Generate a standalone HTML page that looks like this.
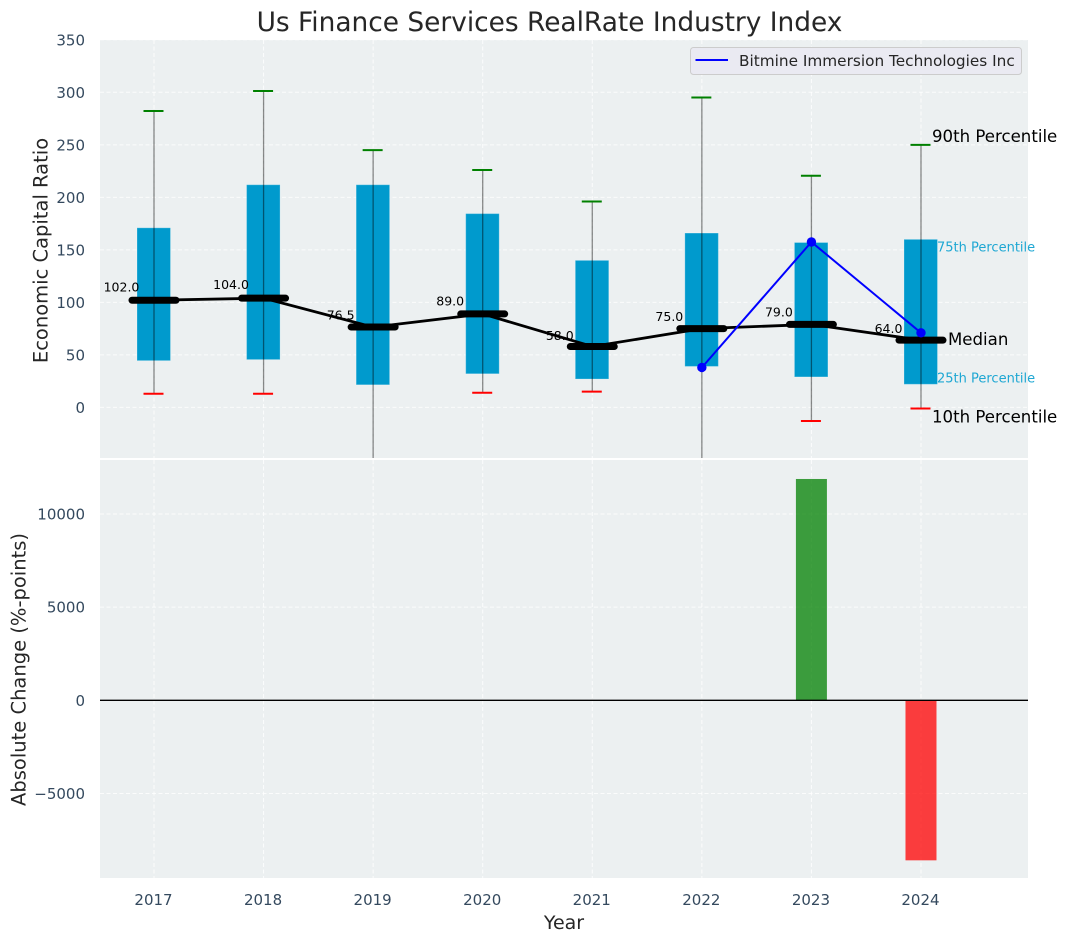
<!DOCTYPE html>
<html lang="en">
<head>
<meta charset="utf-8">
<title>Us Finance Services RealRate Industry Index</title>
<style>
html,body{margin:0;padding:0;background:#fff;width:1067px;height:942px;overflow:hidden}
svg{display:block}
text{font-family:"DejaVu Sans","Liberation Sans",sans-serif}
</style>
</head>
<body>
<svg id="chart" xmlns="http://www.w3.org/2000/svg" width="1067" height="942" viewBox="0 0 1067 942">
  <defs>
    <clipPath id="clip-top"><rect x="100" y="40" width="928" height="418"/></clipPath>
    <clipPath id="clip-bottom"><rect x="100" y="460" width="928" height="418"/></clipPath>
  </defs>
  <text x="549.5" y="31" text-anchor="middle" font-size="26.4" fill="#262626">Us Finance Services RealRate Industry Index</text>
  <rect x="100" y="40" width="928" height="418" fill="#ecf0f1"/>
  <rect x="100" y="460" width="928" height="418" fill="#ecf0f1"/>
  <g id="grid-top"></g>
  <g id="grid-bottom"></g>
  <g id="boxes" clip-path="url(#clip-top)"></g>
  <g id="medians" clip-path="url(#clip-top)"></g>
  <g id="company" clip-path="url(#clip-top)"></g>
  <g id="value-labels"></g>
  <g id="annotations"></g>
  <g id="bars" clip-path="url(#clip-bottom)"></g>
  <g id="ticks"></g>
  <text transform="translate(47.5 250.5) rotate(-90)" text-anchor="middle" font-size="19.5" fill="#262626">Economic Capital Ratio</text>
  <text transform="translate(25.5 669.5) rotate(-90)" text-anchor="middle" font-size="19.5" fill="#262626">Absolute Change (%-points)</text>
  <text x="564" y="929" text-anchor="middle" font-size="19" fill="#262626">Year</text>
  <g>
    <rect x="690.5" y="47.5" width="331" height="27" rx="3" fill="#eaeaf2" stroke="#cccccc" stroke-width="1"/>
    <line x1="695.5" y1="60" x2="728" y2="60" stroke="#0000ff" stroke-width="2"/>
    <text x="739" y="66" font-size="15.3" fill="#262626">Bitmine Immersion Technologies Inc</text>
  </g>
</svg>
<script>
const years = [2017, 2018, 2019, 2020, 2021, 2022, 2023, 2024];
const p90 = [282.2, 301.2, 245, 226, 196, 295, 220.5, 250];
const p75 = [171, 212, 212, 184.5, 140, 166, 157, 160];
const medianValues = [102, 104, 76.5, 89, 58, 75, 79, 64];
const p25 = [44.5, 45.5, 21.5, 32, 27, 39, 29, 22];
const p10 = [13, 13, -60, 14, 15, -60, -13, -1];
const companyYears = [2022, 2023, 2024];
const companyValues = [38, 157.5, 71];
const changeYears = [2023, 2024];
const changeValues = [11880, -8590];
const topTicks = [0, 50, 100, 150, 200, 250, 300, 350];
const bottomTicks = [-5000, 0, 5000, 10000];

const NS = 'http://www.w3.org/2000/svg';
const xScale = function (year) { return 154 + (year - 2017) * 109.57; };
const yTop = function (v) { return 407.4 - v * 1.0503; };
const yBottom = function (v) { return 700.3 - v * 0.01863; };

function make(parent, tag, attrs, content) {
  const el = document.createElementNS(NS, tag);
  for (const key in attrs) { el.setAttribute(key, attrs[key]); }
  if (content !== undefined) { el.textContent = content; }
  parent.appendChild(el);
  return el;
}
const byId = function (id) { return document.getElementById(id); };
const gridStyle = { stroke: '#ffffff', 'stroke-width': 1, 'stroke-dasharray': '4 2.5', 'stroke-opacity': 0.8 };
const tickColor = '#34495e';

years.forEach(function (year) {
  const x = xScale(year);
  const a = make(byId('grid-top'), 'line', Object.assign({ x1: x, x2: x, y1: 40, y2: 458 }, gridStyle));
  
  
  const b = make(byId('grid-bottom'), 'line', Object.assign({ x1: x, x2: x, y1: 460, y2: 878 }, gridStyle));
  
  
  const t = make(byId('ticks'), 'text', { x: x - 0.5, y: 905, 'text-anchor': 'middle', 'font-size': 15, fill: tickColor }, String(year));
  
  
});

topTicks.forEach(function (v) {
  const y = yTop(v);
  const g = make(byId('grid-top'), 'line', Object.assign({ x1: 100, x2: 1028, y1: y, y2: y }, gridStyle));
  
  
  const t = make(byId('ticks'), 'text', { x: 85, y: y + 5.5, 'text-anchor': 'end', 'font-size': 15, fill: tickColor }, String(v));
  
  
});

bottomTicks.forEach(function (v) {
  const y = yBottom(v);
  const g = make(byId('grid-bottom'), 'line', Object.assign({ x1: 100, x2: 1028, y1: y, y2: y }, gridStyle));
  
  
  const label = v < 0 ? '\u2212' + Math.abs(v) : String(v);
  const t = make(byId('ticks'), 'text', { x: 85, y: y + 5.5, 'text-anchor': 'end', 'font-size': 15, fill: tickColor }, label);
  
  
});

years.forEach(function (year, i) {
  const x = xScale(year);
  const box = make(byId('boxes'), 'rect', { x: x - 17, y: yTop(p75[i]), width: 33.5, height: yTop(p25[i]) - yTop(p75[i]), fill: '#009acd', stroke: '#ffffff', 'stroke-opacity': 0.25, 'stroke-width': 1 });
  
  
  const whisker = make(byId('boxes'), 'line', { x1: x, x2: x, y1: yTop(p90[i]), y2: yTop(p10[i]), stroke: '#000000', 'stroke-opacity': 0.45, 'stroke-width': 1.3 });
  
  
  const hi = make(byId('boxes'), 'line', { x1: x - 10.5, x2: x + 9.5, y1: yTop(p90[i]), y2: yTop(p90[i]), stroke: '#008000', 'stroke-width': 2 });
  
  
  const lo = make(byId('boxes'), 'line', { x1: x - 10.5, x2: x + 9.5, y1: yTop(p10[i]), y2: yTop(p10[i]), stroke: '#ff0000', 'stroke-width': 2 });
  
  
});

const medianPoints = years.map(function (year, i) { return xScale(year) + ',' + yTop(medianValues[i]); }).join(' ');
const medianLine = make(byId('medians'), 'polyline', { points: medianPoints, fill: 'none', stroke: '#000000', 'stroke-width': 2.8 });



years.forEach(function (year, i) {
  const x = xScale(year);
  const y = yTop(medianValues[i]);
  const mark = make(byId('medians'), 'line', { x1: x - 22, x2: x + 22, y1: y, y2: y, stroke: '#000000', 'stroke-width': 7, 'stroke-linecap': 'round' });
  
  
  const label = make(byId('value-labels'), 'text', { x: x - 32.5, y: yTop(medianValues[i] * 1.05) - 3.6, 'text-anchor': 'middle', 'font-size': 12.5, fill: '#000000' }, medianValues[i].toFixed(1));
  
  
});

const companyPoints = companyYears.map(function (year, i) { return xScale(year) + ',' + yTop(companyValues[i]); }).join(' ');
const companyLine = make(byId('company'), 'polyline', { points: companyPoints, fill: 'none', stroke: '#0000ff', 'stroke-width': 2 });



companyYears.forEach(function (year, i) {
  const dot = make(byId('company'), 'circle', { cx: xScale(year), cy: yTop(companyValues[i]), r: 4.7, fill: '#0000ff' });
  
  
});

changeYears.forEach(function (year, i) {
  const x = xScale(year);
  const v = changeValues[i];
  const y0 = yBottom(0);
  const y1 = yBottom(v);
  const bar = make(byId('bars'), 'rect', { x: x - 15.5, y: Math.min(y0, y1), width: 31, height: Math.abs(y1 - y0), fill: v >= 0 ? '#008000' : '#ff0000', 'fill-opacity': 0.75 });
  
  
});
const zero = make(byId('bars'), 'line', { x1: 100, x2: 1028, y1: yBottom(0), y2: yBottom(0), stroke: '#000000', 'stroke-width': 1.3 });



const last = years.length - 1;
const lastX = xScale(years[last]);
const a90 = make(byId('annotations'), 'text', { x: lastX + 11, y: yTop(p90[last]) - 3, 'font-size': 16.6, fill: '#000000' }, '90th Percentile');


const a75 = make(byId('annotations'), 'text', { x: lastX + 16, y: yTop(p75[last]) + 12, 'font-size': 13, fill: '#1ea7d3' }, '75th Percentile');


const aMed = make(byId('annotations'), 'text', { x: lastX + 27, y: yTop(medianValues[last]) + 5, 'font-size': 16.6, fill: '#000000' }, 'Median');


const a25 = make(byId('annotations'), 'text', { x: lastX + 16, y: yTop(p25[last]) - 2, 'font-size': 13, fill: '#1ea7d3' }, '25th Percentile');


const a10 = make(byId('annotations'), 'text', { x: lastX + 11, y: yTop(p10[last]) + 14, 'font-size': 16.6, fill: '#000000' }, '10th Percentile');


</script>
</body>
</html>
